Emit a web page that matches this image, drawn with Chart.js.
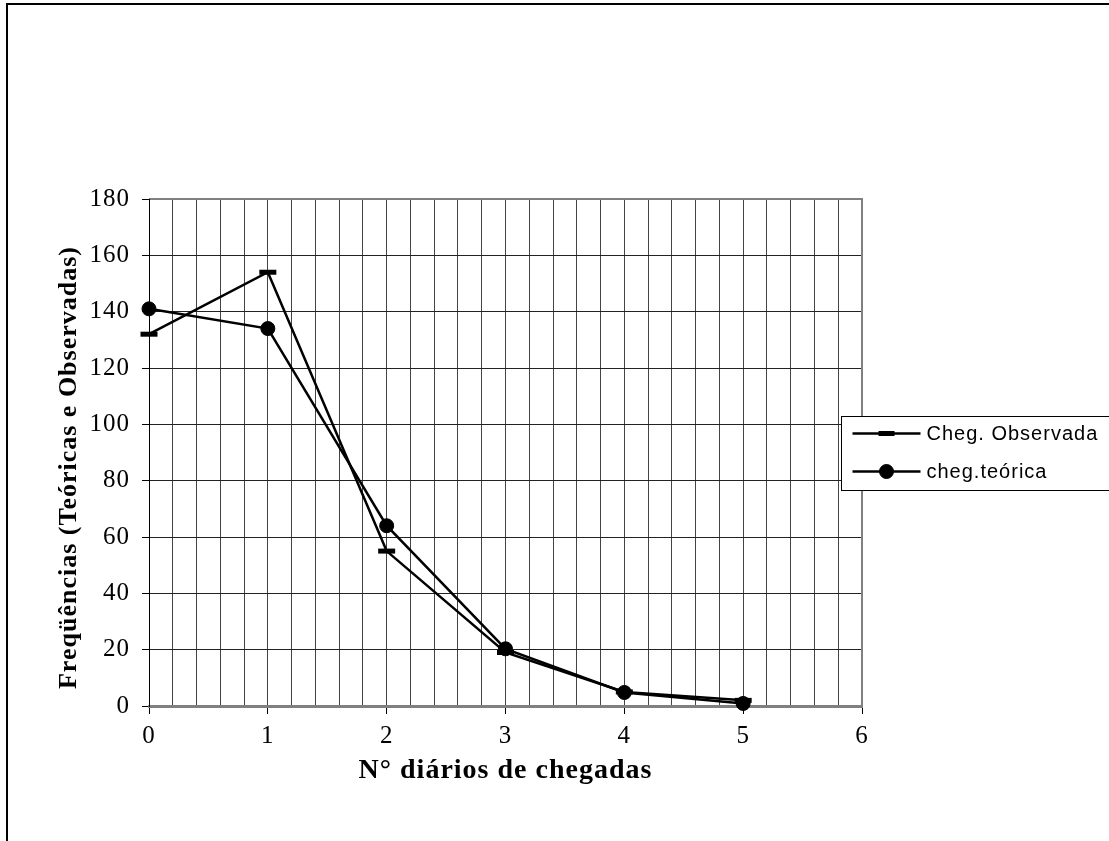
<!DOCTYPE html>
<html>
<head>
<meta charset="utf-8">
<script src="https://cdn.jsdelivr.net/npm/chart.js@4/dist/chart.umd.min.js"></script>
<style>
html,body{margin:0;padding:0;background:#fff;}
canvas{display:block;}
</style>
</head>
<body>
<canvas id="c" width="1109" height="841"></canvas>
<script>
// ---- data ----
const categories = [0, 1, 2, 3, 4, 5];
const observada = [132, 154, 55, 19, 5, 2];
const teorica = [141, 134, 64, 20.3, 4.8, 0.9];
const xTickLabels = ['0', '1', '2', '3', '4', '5', '6'];
const yTickLabels = ['0', '20', '40', '60', '80', '100', '120', '140', '160', '180'];
const seriesNames = ['Cheg. Observada', 'cheg.teórica'];
const xTitle = 'N° diários de chegadas';
const yTitle = 'Freqüências (Teóricas e Observadas)';

const serif = "'Liberation Serif', 'Times New Roman', serif";
const sans = "'Liberation Sans', Arial, sans-serif";

const framePlugin = {
  id: 'frame',
  beforeDraw(chart) {
    const ctx = chart.ctx;
    ctx.save();
    ctx.fillStyle = '#fff';
    ctx.fillRect(0, 0, chart.width, chart.height);
    ctx.strokeStyle = '#000';
    ctx.lineWidth = 2;
    ctx.beginPath();
    ctx.moveTo(7, chart.height);
    ctx.lineTo(7, 4);
    ctx.lineTo(chart.width, 4);
    ctx.stroke();
    ctx.restore();
    ctx.letterSpacing = '1px';
  },
  beforeDatasetsDraw(chart) {
    const {ctx, chartArea: a} = chart;
    ctx.save();
    ctx.strokeStyle = '#808080';
    ctx.lineWidth = 2;
    ctx.beginPath();
    ctx.moveTo(a.left, a.top);
    ctx.lineTo(a.right, a.top);
    ctx.lineTo(a.right, a.bottom);
    ctx.stroke();
    ctx.strokeStyle = '#000';
    ctx.lineWidth = 1;
    ctx.beginPath();
    ctx.moveTo(a.left + 0.5, a.top);
    ctx.lineTo(a.left + 0.5, a.bottom);
    ctx.stroke();
    ctx.restore();
  },
  afterDraw(chart) {
    const {ctx, chartArea: a} = chart;
    ctx.save();
    ctx.letterSpacing = '1px';
    const bx = a.right - 21 + 0.5;
    const bh = 74;
    const by = Math.round((a.top + a.bottom) / 2 - bh / 2) + 0.5;
    ctx.fillStyle = '#fff';
    ctx.fillRect(bx, by, chart.width - bx + 10, bh);
    ctx.strokeStyle = '#000';
    ctx.lineWidth = 1;
    ctx.strokeRect(bx, by, chart.width - bx + 10, bh);
    const rows = [by + 17, by + 55];
    chart.data.datasets.forEach((ds, i) => {
      const y = rows[i];
      ctx.strokeStyle = '#000';
      ctx.lineWidth = 2.5;
      ctx.beginPath();
      ctx.moveTo(bx + 11, y);
      ctx.lineTo(bx + 79, y);
      ctx.stroke();
      ctx.fillStyle = '#000';
      ctx.strokeStyle = '#000';
      const isLine = ds.pointStyle === 'line';
      ctx.lineWidth = isLine ? 5 : 1;
      Chart.helpers.drawPoint(ctx, {
        pointStyle: ds.pointStyle,
        radius: isLine ? 8 : 7,
        borderWidth: isLine ? 5 : 1,
        rotation: 0
      }, bx + 45, y);
      ctx.fillStyle = '#000';
      ctx.font = '20px ' + sans;
      ctx.textBaseline = 'middle';
      ctx.textAlign = 'left';
      ctx.fillText(ds.label, bx + 85, y + 1);
    });
    ctx.restore();
  }
};

new Chart(document.getElementById('c'), {
  type: 'line',
  data: {
    datasets: [
      {
        label: seriesNames[0],
        data: categories.map((x, i) => ({x: x, y: observada[i]})),
        borderColor: '#000',
        backgroundColor: '#000',
        borderWidth: 2.5,
        pointStyle: 'line',
        pointRadius: 8.5,
        pointBorderWidth: 5,
        pointBorderColor: '#000',
        tension: 0,
        clip: false
      },
      {
        label: seriesNames[1],
        data: categories.map((x, i) => ({x: x, y: teorica[i]})),
        borderColor: '#000',
        backgroundColor: '#000',
        borderWidth: 2.5,
        pointStyle: 'circle',
        pointRadius: 7,
        pointBorderWidth: 1,
        pointBackgroundColor: '#000',
        pointBorderColor: '#000',
        tension: 0,
        clip: false
      }
    ]
  },
  options: {
    responsive: false,
    animation: false,
    devicePixelRatio: 1,
    layout: {padding: {left: 0, top: 199, right: 247, bottom: 0}},
    plugins: {legend: {display: false}, tooltip: {enabled: false}},
    scales: {
      x: {
        type: 'linear',
        min: 0,
        max: 6,
        afterFit(s) { s.height = 135; },
        afterBuildTicks(s) {
          const t = [];
          for (let i = 0; i <= 30; i++) t.push({value: i / 5});
          s.ticks = t;
        },
        ticks: {
          autoSkip: false,
          maxRotation: 0,
          padding: 7,
          color: '#000',
          font: {family: serif, size: 25},
          callback(v) {
            const r = Math.round(v);
            return Math.abs(v - r) < 1e-6 ? xTickLabels[r] : '';
          }
        },
        grid: {
          color: '#444',
          lineWidth: 1,
          tickLength: 8,
          tickColor(c) {
            const v = c.tick ? c.tick.value : 0;
            return Math.abs(v - Math.round(v)) < 1e-6 ? '#000' : 'rgba(0,0,0,0)';
          }
        },
        border: {color: '#808080', width: 3},
        title: {
          display: true,
          text: xTitle,
          color: '#000',
          font: {family: serif, size: 28, weight: 'bold'},
          padding: {top: 0, bottom: 53}
        }
      },
      y: {
        type: 'linear',
        min: 0,
        max: 180,
        afterFit(s) { s.width = 149; },
        ticks: {
          stepSize: 20,
          padding: 12,
          color: '#000',
          font: {family: serif, size: 25},
          callback(v) { return yTickLabels[Math.round(v / 20)]; }
        },
        grid: {color: '#222', lineWidth: 1, tickLength: 7, tickColor: '#000'},
        border: {color: '#000', width: 1},
        title: {
          display: true,
          text: yTitle + '    ',
          color: '#000',
          font: {family: serif, size: 26, weight: 'bold'},
          padding: {top: 54, bottom: 0}
        }
      }
    }
  },
  plugins: [framePlugin]
});
</script>
</body>
</html>
